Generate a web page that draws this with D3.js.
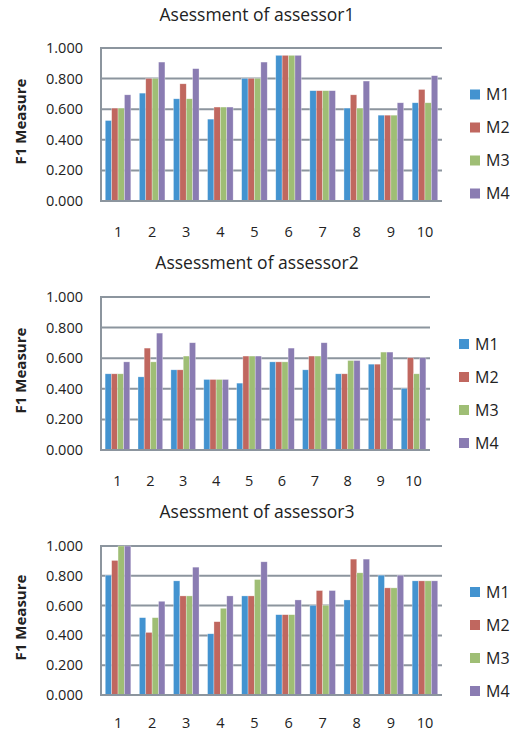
<!DOCTYPE html>
<html>
<head>
<meta charset="utf-8">
<script src="https://cdn.jsdelivr.net/npm/d3@7"></script>
<style>
  body { margin: 0; background: #fff; }
  svg text { font-family: "Open Sans", "DejaVu Sans", sans-serif; fill: #222; }
  .title { font-size: 17.5px; text-anchor: middle; }
  .tick-label { font-size: 14.5px; }
  .y-title { font-size: 15px; font-weight: bold; text-anchor: middle; }
  .legend-label { font-size: 16px; }
</style>
</head>
<body>
<svg id="chart" width="515" height="739"></svg>
<script>
/*** DATA ***/
let categories = ["1", "2", "3", "4", "5", "6", "7", "8", "9", "10"];
let series = ["M1", "M2", "M3", "M4"];
let y_ticks = [0, 0.2, 0.4, 0.6, 0.8, 1.0];
let titles = ["Asessment of assessor1", "Assessment of assessor2", "Asessment of assessor3"];

// one row per category: M1, M2, M3, M4
let assessor1 = [
    [0.526, 0.607, 0.607, 0.694],
    [0.705, 0.801, 0.801, 0.908],
    [0.668, 0.766, 0.668, 0.865],
    [0.535, 0.614, 0.614, 0.614],
    [0.801, 0.801, 0.801, 0.908],
    [0.952, 0.952, 0.952, 0.952],
    [0.721, 0.721, 0.721, 0.721],
    [0.607, 0.694, 0.607, 0.784],
    [0.561, 0.561, 0.561, 0.642],
    [0.642, 0.729, 0.642, 0.819]
];
let assessor2 = [
    [0.498, 0.498, 0.498, 0.576],
    [0.478, 0.666, 0.576, 0.764],
    [0.524, 0.524, 0.614, 0.701],
    [0.461, 0.461, 0.461, 0.461],
    [0.437, 0.614, 0.614, 0.614],
    [0.576, 0.576, 0.576, 0.666],
    [0.524, 0.614, 0.614, 0.701],
    [0.498, 0.498, 0.585, 0.585],
    [0.561, 0.561, 0.640, 0.640],
    [0.402, 0.603, 0.498, 0.603]
];
let assessor3 = [
    [0.804, 0.903, 1.000, 1.000],
    [0.519, 0.420, 0.519, 0.629],
    [0.766, 0.665, 0.665, 0.858],
    [0.411, 0.492, 0.582, 0.665],
    [0.665, 0.665, 0.775, 0.894],
    [0.539, 0.539, 0.539, 0.638],
    [0.602, 0.701, 0.602, 0.701],
    [0.638, 0.912, 0.820, 0.912],
    [0.804, 0.719, 0.719, 0.804],
    [0.766, 0.766, 0.766, 0.766]
];

let colors = ["#4393d0", "#c0675f", "#9fbe75", "#8a7cb2"];

/*** LAYOUT ***/
let svg = d3.select("#chart");

let panels = [
    {data: assessor1, title: titles[0], title_y: 15, top: 48, bottom: 201, left: 101, right: 442, x_label_y: 232, legend_x: 470, legend_y: 94.5},
    {data: assessor2, title: titles[1], title_y: 263, top: 297, bottom: 450, left: 101, right: 430, x_label_y: 481, legend_x: 459, legend_y: 344},
    {data: assessor3, title: titles[2], title_y: 512, top: 546, bottom: 695, left: 101, right: 442, x_label_y: 723, legend_x: 470, legend_y: 592}
];

let grid_color = "#8c959e";

function draw_panel(p) {
    let g = svg.append("g");

    let x = d3.scaleBand().domain(categories).range([p.left, p.right]).paddingInner(0.25).paddingOuter(0.125);
    let x_inner = d3.scaleBand().domain(series).range([0, x.bandwidth()]);
    let y = d3.scaleLinear().domain([0, 1]).range([p.bottom, p.top]);

    // title
    g.append("text")
        .classed("title", true)
        .attr("x", 257)
        .attr("y", p.title_y)
        .attr("dy", "0.35em")
        .text(p.title);

    // gridlines
    g.selectAll("line.grid")
        .data(y_ticks.filter((d) => d > 0)).enter()
        .append("line")
        .classed("grid", true)
        .attr("x1", p.left)
        .attr("x2", p.right)
        .attr("y1", (d) => y(d))
        .attr("y2", (d) => y(d))
        .attr("stroke", grid_color)
        .attr("stroke-width", 2);

    // bars
    let groups = g.selectAll("g.group")
        .data(p.data).enter()
        .append("g")
        .classed("group", true)
        .attr("transform", (d, i) => "translate(" + x(categories[i]) + ",0)");

    groups.selectAll("rect")
        .data((d) => d.map((v, j) => ({key: series[j], value: v}))).enter()
        .append("rect")
        .attr("x", (d) => x_inner(d.key))
        .attr("y", (d) => y(d.value))
        .attr("width", x_inner.bandwidth())
        .attr("height", (d) => y(0) - y(d.value))
        .attr("fill", (d, j) => colors[j])
        .attr("stroke", "#ffffff")
        .attr("stroke-opacity", 0.5)
        .attr("stroke-width", 0.6);

    // axes lines
    g.append("line")
        .attr("x1", p.left).attr("x2", p.left)
        .attr("y1", p.top - 1).attr("y2", p.bottom + 1)
        .attr("stroke", grid_color).attr("stroke-width", 2);
    g.append("line")
        .attr("x1", p.left).attr("x2", p.right)
        .attr("y1", p.bottom).attr("y2", p.bottom)
        .attr("stroke", grid_color).attr("stroke-width", 2);

    // y tick labels
    g.selectAll("text.y-tick")
        .data(y_ticks).enter()
        .append("text")
        .classed("tick-label", true)
        .attr("x", 83)
        .attr("y", (d) => y(d))
        .attr("dy", "0.35em")
        .attr("text-anchor", "end")
        .text((d) => d3.format(".3f")(d));

    // x tick labels
    g.selectAll("text.x-tick")
        .data(categories).enter()
        .append("text")
        .classed("tick-label", true)
        .attr("x", (d) => x(d) + x.bandwidth() / 2)
        .attr("y", p.x_label_y)
        .attr("dy", "0.35em")
        .attr("text-anchor", "middle")
        .text((d) => d);

    // y title
    g.append("text")
        .classed("y-title", true)
        .attr("transform", "translate(21," + ((p.top + p.bottom) / 2 - 3) + ") rotate(-90)")
        .attr("dy", "0.35em")
        .text("F1 Measure");

    // legend
    let legend = g.selectAll("g.legend")
        .data(series).enter()
        .append("g")
        .attr("transform", (d, i) => "translate(" + p.legend_x + "," + (p.legend_y + i * 33) + ")");
    legend.append("rect")
        .attr("x", 0).attr("y", -5)
        .attr("width", 10).attr("height", 10)
        .attr("fill", (d, i) => colors[i]);
    legend.append("text")
        .classed("legend-label", true)
        .attr("x", 16)
        .attr("dy", "0.35em")
        .text((d) => d);
}

panels.forEach(draw_panel);
</script>
</body>
</html>
